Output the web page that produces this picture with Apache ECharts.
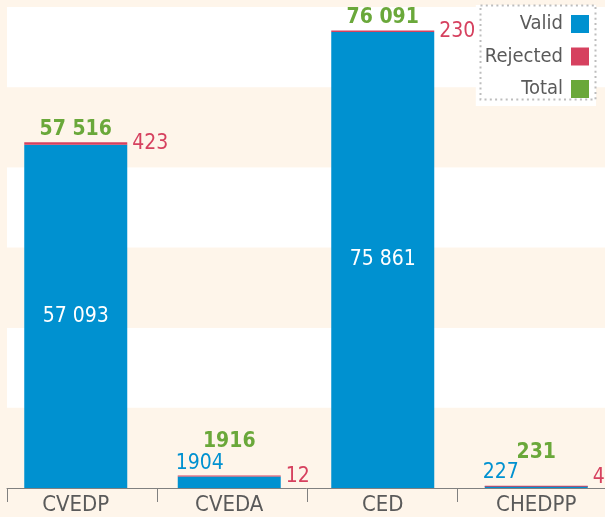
<!DOCTYPE html>
<html>
<head>
<meta charset="utf-8">
<script src="https://cdn.jsdelivr.net/npm/echarts@6/dist/echarts.min.js"></script>
<style>html,body{margin:0;padding:0;background:#fef5ea}#c{width:605px;height:517px}</style>
</head>
<body>
<div id="c"></div>
<script>
const categories = ['CVEDP', 'CVEDA', 'CED', 'CHEDPP'];
const validValues = [57093, 1904, 75861, 227];
const rejectedValues = [423, 12, 230, 4];
const totalValues = [57516, 1916, 76091, 231];
const seriesNames = ['Valid', 'Rejected', 'Total'];

const FONT = "'DejaVu Sans Condensed', 'Liberation Sans Narrow', 'DejaVu Sans', sans-serif";
const BLUE = '#0091d0', RED = '#d6415f', GREEN = '#6aa83a', CREAM = '#fef5ea', GRAY = '#5a5a5a';
const fmt = v => v >= 10000 ? String(v).replace(/\B(?=(\d{3})+(?!\d))/g, ' ') : String(v);
const SMALL = 5000;

const validData = validValues.map((v, i) => {
  const item = { value: v };
  if (v < SMALL) {
    item.label = { position: [-2, -3], align: 'left', verticalAlign: 'bottom', color: BLUE };
  }
  return item;
});
const rejectedData = rejectedValues.map((v, i) => {
  const item = { value: v };
  if (totalValues[i] < 1000) item.label = { offset: [0, -9] };
  return item;
});
const totalData = totalValues.map((v, i) => {
  const item = { value: 0 };
  if (validValues[i] < SMALL) item.label = { offset: [0, -22] };
  return item;
});

const chart = echarts.init(document.getElementById('c'));
chart.setOption({
  backgroundColor: CREAM,
  animation: false,
  textStyle: { fontFamily: FONT },
  grid: [
    { left: 7, width: 600, top: 7, bottom: 29, containLabel: false, outerBoundsMode: 'none' },
    { left: -1, width: 614, top: 7, bottom: 29, containLabel: false, outerBoundsMode: 'none' }
  ],
  xAxis: [
    { type: 'category', gridIndex: 0, data: categories,
      axisLine: { lineStyle: { color: '#808080', width: 1 } },
      axisTick: { show: true, length: 14, lineStyle: { color: '#808080' } },
      axisLabel: { show: false } },
    { type: 'category', gridIndex: 1, data: categories,
      axisLine: { show: false }, axisTick: { show: false },
      axisLabel: { color: GRAY, fontSize: 22, margin: 6, fontFamily: FONT } }
  ],
  yAxis: [
    { type: 'value', gridIndex: 0, min: 0, max: 80000, interval: 80000 / 6,
      axisLine: { show: false }, axisTick: { show: false }, axisLabel: { show: false },
      splitLine: { show: false },
      splitArea: { show: true, areaStyle: { color: [CREAM, '#ffffff'] } } },
    { type: 'value', gridIndex: 1, min: 0, max: 80000, show: false,
      splitLine: { show: false } }
  ],
  legend: {
    data: seriesNames, orient: 'vertical', right: 9, top: 5, align: 'right',
    padding: [9, 7, 7, 9], itemWidth: 18, itemHeight: 18, itemGap: 12.5,
    backgroundColor: '#ffffff', icon: 'rect',
    textStyle: { color: GRAY, fontSize: 20, fontFamily: FONT, padding: [0, 3, 0, 0] }
  },
  graphic: [{
    type: 'rect', z: 100, silent: true,
    shape: { x: 480.5, y: 5.5, width: 115, height: 94 },
    style: { fill: 'none', stroke: '#bdbdbd', lineWidth: 2, lineDash: [2, 3.3] }
  }],
  series: [
    { name: seriesNames[0], type: 'bar', stack: 's', xAxisIndex: 1, yAxisIndex: 1,
      barWidth: 103, barMinHeight: 2, data: validData, itemStyle: { color: BLUE },
      label: { show: true, position: 'inside', color: '#ffffff', fontSize: 21, fontFamily: FONT,
        formatter: p => fmt(validValues[p.dataIndex]) } },
    { name: seriesNames[1], type: 'bar', stack: 's', xAxisIndex: 1, yAxisIndex: 1,
      barWidth: 103, barMinHeight: 1, data: rejectedData, itemStyle: { color: RED },
      label: { show: true, position: 'right', distance: 5, color: RED, fontSize: 21, fontFamily: FONT,
        formatter: p => fmt(rejectedValues[p.dataIndex]) } },
    { name: seriesNames[2], type: 'bar', stack: 's', xAxisIndex: 1, yAxisIndex: 1,
      barWidth: 103, data: totalData, itemStyle: { color: GREEN },
      label: { show: true, position: 'top', distance: 2, color: GREEN, fontSize: 21, fontWeight: 'bold', fontFamily: FONT,
        formatter: p => fmt(totalValues[p.dataIndex]) } }
  ]
});
</script>
</body>
</html>
